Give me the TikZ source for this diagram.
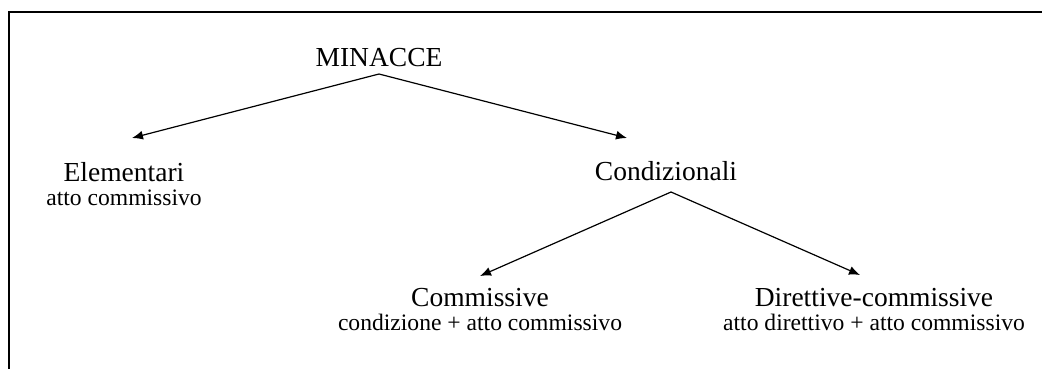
\documentclass[tikz,border=0pt]{standalone}
\usepackage{fontspec}
\setmainfont{Liberation Serif}
\usetikzlibrary{arrows.meta,calc}

\newcommand{\subfont}{\fontsize{11.8}{13}\selectfont}

\begin{document}
\begin{tikzpicture}[
    x=0.5pt, y=-0.5pt,
    concept/.style={align=center, anchor=base, inner sep=0pt, font=\fontsize{13.75}{16}\selectfont},
    arrow/.style={-{Latex[length=5.5pt, width=4.5pt]}, line width=0.6pt},
    frame/.style={line width=1pt},
]
\useasboundingbox (0,0) rectangle (1042,369);

% ================== Frame ==================
\draw[frame] (1042,12) -- (9,12) -- (9,369);

% ================== Root ==================
\node[concept] (minacce) at (379,67) {MINACCE};

% ================== First level ==================
\node[concept] (elem) at (124,205) {Elementari\\[-4pt]\subfont atto commissivo};
\node[concept] (cond) at (666,180) {Condizionali};

\coordinate (elemTip) at (132,138);
\coordinate (condTip) at (627,138);
\draw[arrow] ([yshift=-3.5pt]minacce.base) -- (elemTip);
\draw[arrow] ([yshift=-3.5pt]minacce.base) -- (condTip);

% ================== Second level ==================
\node[concept] (comm) at (480,330) {Commissive\\[-4pt]\subfont condizione + atto commissivo};
\node[concept] (dir) at (874,330) {Direttive-commissive\\[-4pt]\subfont atto direttivo + atto commissivo};

\coordinate (commTip) at (480,276);
\coordinate (dirTip) at (860,275);
\draw[arrow] ([xshift=2.5pt,yshift=-6pt]cond.base) -- (commTip);
\draw[arrow] ([xshift=2.5pt,yshift=-6pt]cond.base) -- (dirTip);

\end{tikzpicture}
\end{document}
